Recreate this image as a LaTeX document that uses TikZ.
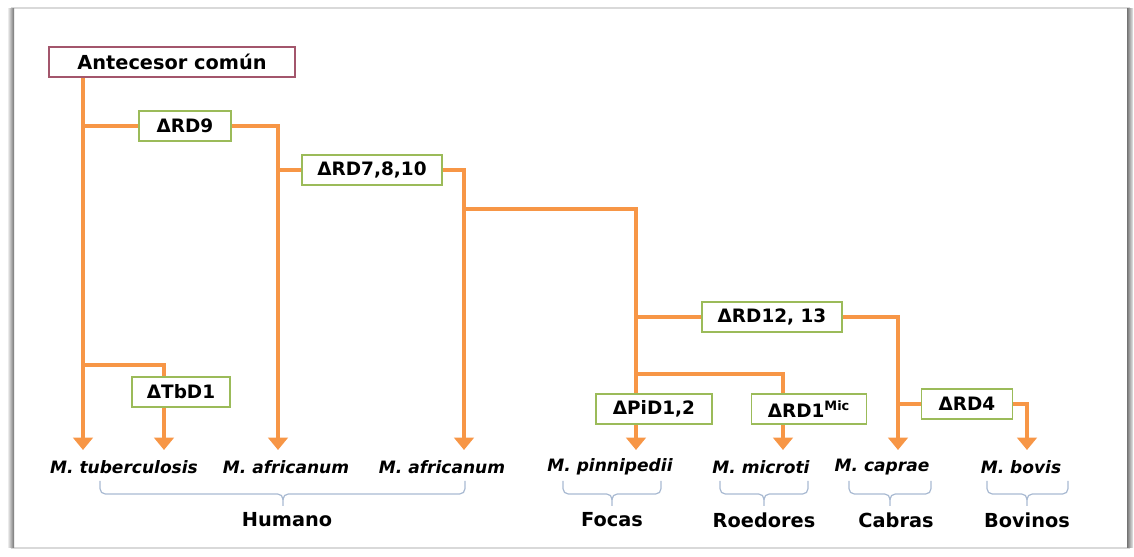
\documentclass[tikz,border=0pt]{standalone}
\usepackage{fontspec}
\setmainfont{DejaVu Sans}
\usepackage{xcolor}
\usepackage{tikz}
\usetikzlibrary{positioning,arrows.meta,decorations.pathreplacing}

\definecolor{branch}{HTML}{F79646}
\definecolor{rdgreen}{HTML}{9BBB59}
\definecolor{rootred}{HTML}{A3566C}
\definecolor{bracegray}{HTML}{A9BAD2}

\begin{document}
\begin{tikzpicture}[
    x=0.02cm, y=-0.02cm,
    >={Triangle[width=11pt,length=7pt]},
    font=\bfseries\fontsize{10.5}{12}\selectfont,
    line/.style={draw=branch, line width=2.2pt},
    rd/.style={draw=rdgreen, line width=1.1pt, fill=white, minimum height=6mm, inner sep=2pt},
    root/.style={draw=rootred, line width=1.6pt, fill=white, minimum height=6mm, minimum width=49.2mm, font=\bfseries\fontsize{11}{13}\selectfont},
    sp/.style={font=\bfseries\itshape\fontsize{9.7}{11}\selectfont, inner sep=1pt},
    grp/.style={font=\bfseries\fontsize{11}{13}\selectfont, inner sep=1pt},
    brc/.style={draw=bracegray, line width=0.7pt, rounded corners=3pt},
  ]
    \useasboundingbox (0,0) rectangle (1134,557);

    % panel
    \draw[black!15, line width=0.6pt] (12,8) rectangle (1129,548);
    \shade[left color=black!8, right color=black!55] (8,9) rectangle (14,548);
    \shade[left color=black!55, right color=black!8] (1127,9) rectangle (1133,548);

    % boxes
    \node[root] (root) at (172,62) {Antecesor común};
    \node[rd, minimum width=18.4mm] (rd9)  at (185,126) {ΔRD9};
    \node[rd, minimum width=28mm]   (rd7)  at (372,170) {ΔRD7,8,10};
    \node[rd, minimum width=28mm]   (rd12) at (772,317) {ΔRD12, 13};
    \node[rd, minimum width=19.6mm] (tbd1) at (181,392) {ΔTbD1};
    \node[rd, minimum width=23.2mm] (pid)  at (654,409) {ΔPiD1,2};
    \node[rd, minimum width=23mm]   (rd1)  at (809,409) {ΔRD1\textsuperscript{Mic}};
    \node[rd, minimum width=18.2mm] (rd4)  at (967,404) {ΔRD4};

    % arrow tips and junctions
    \foreach \n/\x in {t1/83, t2/164, t3/278, t4/464, t5/636, t6/783, t7/898, t8/1027}
      \coordinate (\n) at (\x,450);
    \coordinate (j7)  at (464,209);
    \coordinate (jtb) at (83,365);
    \coordinate (jmi) at (636,374);

    % branches
    \draw[line,->] (root.south -| t1) -- (t1);
    \draw[line] (t1 |- rd9) -- (rd9);
    \draw[line,->] (rd9) -| (t3);
    \draw[line] (t3 |- rd7) -- (rd7);
    \draw[line,->] (rd7) -| (t4);
    \draw[line] (j7) -| (pid.north -| t5);
    \draw[line,->] (pid.south -| t5) -- (t5);
    \draw[line] (t5 |- rd12) -- (rd12);
    \draw[line,->] (rd12) -| (t7);
    \draw[line] (jmi) -| (rd1.north -| t6);
    \draw[line,->] (rd1.south -| t6) -- (t6);
    \draw[line] (t7 |- rd4) -- (rd4);
    \draw[line,->] (rd4) -| (t8);
    \draw[line] (jtb) -| (tbd1.north -| t2);
    \draw[line,->] (tbd1.south -| t2) -- (t2);

    % species
    \node[sp] (tub)  at (124,467)  {M. tuberculosis};
    \node[sp] (afr1) at (286,467)  {M. africanum};
    \node[sp] (afr2) at (442,467)  {M. africanum};
    \node[sp] (pin)  at (610,467)  {M. pinnipedii};
    \node[sp] (mic)  at (761,467)  {M. microti};
    \node[sp] (cap)  at (882,467)  {M. caprae};
    \node[sp] (bov)  at (1021,467) {M. bovis};

    % hosts
    \foreach \a/\b/\m/\name/\txt in {100/465/283/hum/Humano, 563/661/612/foc/Focas,
        720/808/764/roe/Roedores, 849/931/890/cab/Cabras, 987/1068/1027/bvn/Bovinos} {
      \draw[brc] (\a,481) -- (\a,494) -- (\m,494) -- (\m,506);
      \draw[brc] (\m,500) -- (\m,494) -- (\b,494) -- (\b,481);
    }
    \node[grp] (hum) at (287,520)  {Humano};
    \node[grp] (foc) at (612,520)  {Focas};
    \node[grp] (roe) at (764,520)  {Roedores};
    \node[grp] (cab) at (896,520)  {Cabras};
    \node[grp] (bvn) at (1027,520) {Bovinos};
\end{tikzpicture}
\end{document}
